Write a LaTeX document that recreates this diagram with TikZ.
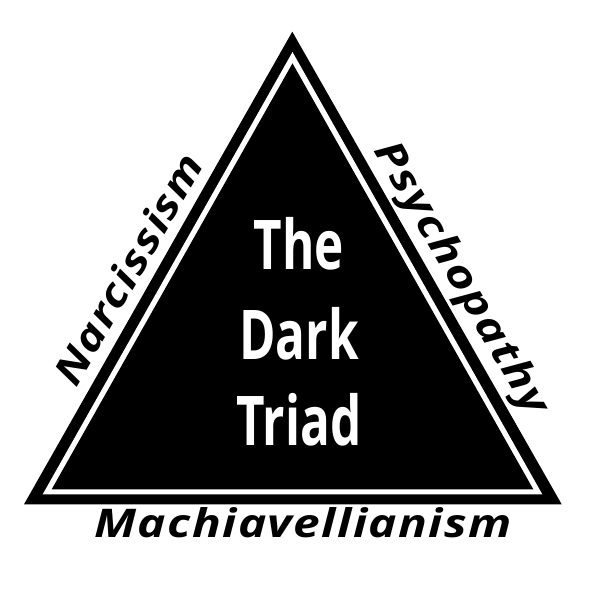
\documentclass[tikz,border=0pt]{standalone}
\usepackage{fontspec}
\newfontfamily\titlefont{Open Sans}
\newfontfamily\labelfont{Open Sans}[LetterSpace=3]
\newcommand{\widen}[1]{\scalebox{1.21}[1]{#1}}
\newcommand{\widenmore}[1]{\scalebox{1.25}[1]{#1}}
\newcommand{\narrow}[1]{\scalebox{0.72}[1]{#1}}
\begin{document}
\begin{tikzpicture}[x=1pt,y=-1pt,
  title/.style={text=white,inner sep=0pt,anchor=base,font=\titlefont\bfseries\fontsize{68.6}{80}\selectfont},
  side/.style={text=black,inner sep=0pt,anchor=base,font=\labelfont\bfseries\itshape\fontsize{39.5}{45}\selectfont}]
\useasboundingbox (0,0) rectangle (605,603);
\fill[white] (0,0) rectangle (605,603);
% triangles
\coordinate (oA) at (292.3,31.7);
\coordinate (oB) at (24,504.3);
\coordinate (oC) at (561.7,504.3);
\coordinate (wA) at (292.5,52);
\coordinate (wB) at (42.7,494.3);
\coordinate (wC) at (542.3,494.3);
\coordinate (iA) at (292.5,63.3);
\coordinate (iB) at (51.7,489.3);
\coordinate (iC) at (533.3,489.3);
\fill[black] (oA) -- (oB) -- (oC) -- cycle;
\fill[white] (wA) -- (wB) -- (wC) -- cycle;
\fill[black] (iA) -- (iB) -- (iC) -- cycle;
% title
\node[title] (t1) at (299,269) {\narrow{The}};
\node[title] (t2) at (299,359) {\narrow{Dark}};
\node[title] (t3) at (299,445) {\narrow{Triad}};
% side labels
\node[side,rotate=60] (narc) at (140.8,276.3) {\widen{Narcissism}};
\node[side,rotate=-60] (psych) at (451.2,284.2) {\widenmore{Psychopathy}};
\node[side] (mach) at (303,537) {\widen{Machiavellianism}};
\end{tikzpicture}
\end{document}
